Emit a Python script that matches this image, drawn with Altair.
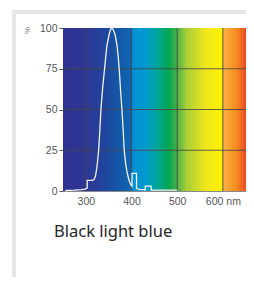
import altair as alt
import pandas as pd

# Emission curve (wavelength nm, relative %)
curve_wl = [255, 275, 290, 298, 303, 303, 315, 318, 321, 324, 326, 328, 330, 333, 337, 341,
            346, 351, 354, 357, 360, 364, 368, 371, 373, 376, 379, 382, 384, 387, 390, 394,
            398, 401, 401, 411, 411, 418, 430, 430, 443, 443, 460, 500]
curve_val = [0.3, 0.5, 0.8, 1.2, 1.8, 6.5, 6.5, 7, 9, 14, 19, 25, 34, 50, 64, 75,
             89, 96, 99, 100, 99, 96, 90, 82, 75, 62, 50, 36, 25, 17, 12, 7,
             4, 3, 10.8, 10.8, 1.5, 1, 0.8, 3, 3, 0.6, 0.5, 0.5]

# Spectrum background colour stops
stop_wl = [250, 300, 330, 370, 398, 402, 430, 455, 480, 497, 520, 560, 598, 602, 630, 655]
stop_col = ["#2e3192", "#2d3795", "#24409b", "#1456a7", "#0f66b2", "#0091d5", "#0099cf",
            "#00a79d", "#00a651", "#3fae49", "#a6ce39", "#eee51f", "#fff200", "#fbb040",
            "#f68b1f", "#ed3a24"]

x_ticks = [300, 400, 500, 600]
y_ticks = [0, 25, 50, 75, 100]
grid_x = [300, 400, 500, 600]
grid_y = [25, 50, 75]
x_min, x_max = 250, 655
caption = "Black light blue"

curve = pd.DataFrame({"wl": curve_wl, "val": curve_val, "i": range(len(curve_wl))})
bg = pd.DataFrame({"x": [x_min], "x2": [x_max], "y": [0], "y2": [100]})

stops = [alt.GradientStop(offset=(w - x_min) / (x_max - x_min), color=c)
         for w, c in zip(stop_wl, stop_col)]

xs = alt.Scale(domain=[x_min, x_max], nice=False, zero=False)
ys = alt.Scale(domain=[0, 100], nice=False)

x_axis = alt.Axis(values=x_ticks, title=None, grid=False, ticks=False,
                  labelExpr="datum.value == 600 ? '600 nm' : datum.label",
                  labelFont="Liberation Sans", labelFontSize=10.5, labelColor="#555555",
                  labelPadding=5, domainColor="#8a8a8a", domainWidth=1)
y_axis = alt.Axis(values=y_ticks, title="%", grid=False, tickSize=4, tickColor="#555555",
                  labelFont="Liberation Sans", labelFontSize=10.5, labelColor="#555555",
                  labelPadding=2, domain=False,
                  titleFont="Liberation Sans", titleFontSize=8, titleColor="#777777",
                  titleFontWeight="normal", titleAngle=270, titleX=-36, titleY=2,
                  titleAlign="center", titleBaseline="middle")

background = alt.Chart(bg).mark_rect(
    fill=alt.Gradient(gradient="linear", stops=stops, x1=0, x2=1, y1=0, y2=0)
).encode(
    x=alt.X("x:Q", scale=xs, axis=x_axis),
    x2="x2:Q",
    y=alt.Y("y:Q", scale=ys, axis=y_axis),
    y2="y2:Q",
)

vgrid = alt.Chart(pd.DataFrame({"g": grid_x})).mark_rule(
    color="#474747", strokeWidth=1.1, opacity=0.85
).encode(x=alt.X("g:Q", scale=xs))

hgrid = alt.Chart(pd.DataFrame({"g": grid_y})).mark_rule(
    color="#474747", strokeWidth=1.1, opacity=0.85
).encode(y=alt.Y("g:Q", scale=ys))

line = alt.Chart(curve).mark_line(
    color="#f2f2f2", strokeWidth=1.3, interpolate="linear"
).encode(
    x=alt.X("wl:Q", scale=xs),
    y=alt.Y("val:Q", scale=ys),
    order="i:Q",
)

# light grey panel frame (top and left bands)
frame_top = alt.Chart(bg).mark_rule(color="#e6e6e6", strokeWidth=4).encode(
    x=alt.value(-51), x2=alt.value(200), y=alt.value(-16))
frame_left = alt.Chart(bg).mark_rule(color="#e6e6e6", strokeWidth=4).encode(
    x=alt.value(-49), y=alt.value(-18), y2=alt.value(280))

title_text = alt.Chart(bg).mark_text(
    text=caption, font="Noto Sans", fontSize=16.5, color="#262626",
    align="left", baseline="alphabetic"
).encode(x=alt.value(-9), y=alt.value(209))

chart = alt.layer(frame_top, frame_left, background, vgrid, hgrid, line, title_text).properties(
    width=185, height=163,
    autosize=alt.AutoSizeParams(type="none"),
    padding={"left": 55, "top": 20, "right": -2, "bottom": 86},
).configure_view(stroke=None).configure(background="white")

chart.save("out.html", embed_options={"renderer": "svg", "actions": False})
